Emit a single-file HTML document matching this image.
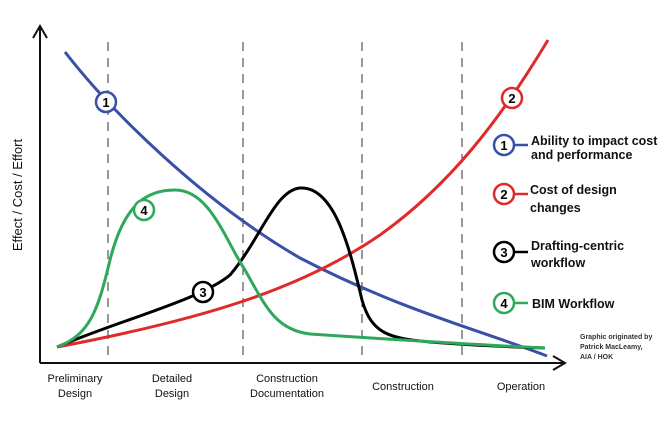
<!DOCTYPE html>
<html><head><meta charset="utf-8"><style>
body{margin:0;background:#fff;}
svg text{font-family:"Liberation Sans",sans-serif;}
</style></head><body>
<svg width="668" height="420" viewBox="0 0 668 420" xmlns="http://www.w3.org/2000/svg">
<rect width="668" height="420" fill="#fff"/>
<g stroke="#333" stroke-width="1" stroke-dasharray="9,7" fill="none">
<line x1="108" y1="42" x2="108" y2="360"/>
<line x1="243" y1="42" x2="243" y2="360"/>
<line x1="362" y1="42" x2="362" y2="360"/>
<line x1="462" y1="42" x2="462" y2="360"/>
</g>
<g stroke="#111" stroke-width="2" fill="none">
<line x1="40" y1="363" x2="40" y2="26"/>
<polyline points="33,38 40,26 47,38"/>
<line x1="40" y1="363" x2="565" y2="363"/>
<polyline points="553,356 565,363 553,370"/>
</g>
<g fill="none" stroke-width="3">
<path d="M65,52 C110,110 200,200 300,258 C400,310 480,330 547,356" stroke="#3a4fa8"/>
<path d="M57,347 C200,320 300,290 380,235 C450,185 500,120 548,40" stroke="#e02a2a"/>
<path d="M57,347 C120,320 200,300 230,275 C260,240 275,190 300,188 C335,186 350,250 362,300 C372,335 390,338 430,342 C480,346 520,347 545,348" stroke="#000"/>
<path d="M57,347 C90,335 98,310 110,260 C125,200 150,190 175,190 C210,190 225,240 245,270 C265,305 275,330 310,334 C400,340 480,345 545,348" stroke="#2ea85a"/>
</g>
<g stroke-width="2.5" fill="#fff" font-weight="bold" font-size="13" text-anchor="middle">
<circle cx="106" cy="102" r="10" stroke="#3a4fa8"/><text x="106" y="107" fill="#000" stroke="none">1</text>
<circle cx="512" cy="98" r="10" stroke="#e02a2a"/><text x="512" y="103" fill="#000" stroke="none">2</text>
<circle cx="203" cy="292" r="10" stroke="#000"/><text x="203" y="297" fill="#000" stroke="none">3</text>
<circle cx="144" cy="210" r="10" stroke="#2ea85a"/><text x="144" y="215" fill="#000" stroke="none">4</text>
</g>
<g stroke-width="2.5" font-weight="bold" font-size="13" text-anchor="middle">
<line x1="514" y1="145" x2="528" y2="145" stroke="#3a4fa8"/><circle cx="504" cy="145" r="10" stroke="#3a4fa8" fill="#fff"/><text x="504" y="150" stroke="none">1</text>
<line x1="514" y1="194" x2="528" y2="194" stroke="#e02a2a"/><circle cx="504" cy="194" r="10" stroke="#e02a2a" fill="#fff"/><text x="504" y="199" stroke="none">2</text>
<line x1="514" y1="252" x2="528" y2="252" stroke="#000"/><circle cx="504" cy="252" r="10" stroke="#000" fill="#fff"/><text x="504" y="257" stroke="none">3</text>
<line x1="514" y1="303" x2="528" y2="303" stroke="#2ea85a"/><circle cx="504" cy="303" r="10" stroke="#2ea85a" fill="#fff"/><text x="504" y="308" stroke="none">4</text>
</g>
<g font-weight="bold" font-size="12.5" fill="#111">
<text x="531" y="145">Ability to impact cost</text>
<text x="531" y="159">and performance</text>
<text x="530" y="194">Cost of design</text>
<text x="530" y="212">changes</text>
<text x="531" y="250">Drafting-centric</text>
<text x="531" y="267">workflow</text>
<text x="532" y="308">BIM Workflow</text>
</g>
<g font-size="7" font-weight="bold" fill="#333">
<text x="580" y="339">Graphic originated by</text>
<text x="580" y="349">Patrick MacLeamy,</text>
<text x="580" y="359">AIA / HOK</text>
</g>
<text transform="translate(22,195) rotate(-90)" text-anchor="middle" font-size="13" fill="#111">Effect / Cost / Effort</text>
<g font-size="11" fill="#111" text-anchor="middle">
<text x="75" y="382">Preliminary</text><text x="75" y="397">Design</text>
<text x="172" y="382">Detailed</text><text x="172" y="397">Design</text>
<text x="287" y="382">Construction</text><text x="287" y="397">Documentation</text>
<text x="403" y="390">Construction</text>
<text x="521" y="390">Operation</text>
</g>
</svg>
</body></html>
